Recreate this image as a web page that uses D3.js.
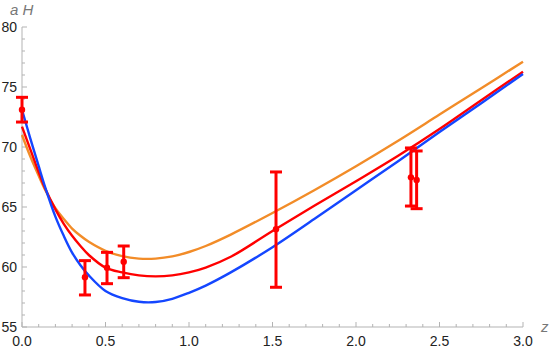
<!DOCTYPE html>
<html>
<head>
<meta charset="utf-8">
<script src="https://cdn.jsdelivr.net/npm/d3@7"></script>
<style>
  body { margin: 0; background: #fff; }
  text { font-family: "Liberation Sans", "DejaVu Sans", sans-serif; }
</style>
</head>
<body>
<script>
// curve samples
const zs = [0, 0.05, 0.1, 0.14, 0.2, 0.25, 0.3, 0.35, 0.4, 0.5, 0.6, 0.7, 0.8, 0.9, 1.0, 1.1, 1.25, 1.5, 1.75, 2.0, 2.25, 2.5, 2.75, 3.0];
const orangeVals = [71.0, 69.2, 67.6, 66.4, 64.9, 64.0, 63.2, 62.6, 62.1, 61.35, 60.9, 60.7, 60.7, 60.88, 61.25, 61.75, 62.7, 64.5, 66.4, 68.4, 70.5, 72.7, 74.9, 77.11];
const redVals    = [71.7, 69.8, 67.9, 66.5, 64.8, 63.6, 62.6, 61.75, 61.0, 59.95, 59.55, 59.3, 59.22, 59.3, 59.55, 59.95, 60.85, 63.0, 65.1, 67.15, 69.25, 71.5, 73.9, 76.28];
const blueVals   = [73.1, 70.7, 68.4, 66.6, 64.2, 62.6, 61.2, 60.15, 59.3, 58.0, 57.4, 57.1, 57.08, 57.35, 57.85, 58.45, 59.55, 61.65, 64.0, 66.4, 68.8, 71.25, 73.65, 76.08];

// measurements with error bars
const dataZ  = [0.0, 0.377, 0.509, 0.609, 1.521, 2.329, 2.363];
const dataV  = [73.1, 59.15, 59.94, 60.44, 63.14, 67.47, 67.25];
const dataLo = [72.08, 57.67, 58.61, 59.11, 58.31, 65.08, 64.86];
const dataHi = [74.14, 60.53, 61.22, 61.75, 67.92, 69.92, 69.67];

const xTicks = [0, 0.5, 1.0, 1.5, 2.0, 2.5, 3.0];
const yTicks = [55, 60, 65, 70, 75, 80];

const width = 552, height = 350;

const x = d3.scaleLinear().domain([0, 3]).range([22, 523]);
const y = d3.scaleLinear().domain([55, 80]).range([327, 27]);

const svg = d3.select("body").append("svg")
  .attr("width", width)
  .attr("height", height);

const axisColor = "#b3b3b3";
const labelColor = "#222";

// axes lines
svg.append("line").attr("x1", x(0)).attr("x2", x(3)).attr("y1", y(55)).attr("y2", y(55))
  .attr("stroke", axisColor);
svg.append("line").attr("x1", x(0)).attr("x2", x(0)).attr("y1", y(55)).attr("y2", y(80))
  .attr("stroke", axisColor);

// minor + major ticks
const xMinor = d3.range(0, 3.0001, 0.1);
svg.selectAll(".xt").data(xMinor).enter().append("line")
  .attr("x1", d => x(d)).attr("x2", d => x(d))
  .attr("y1", y(55))
  .attr("y2", d => y(55) - (Math.abs(d * 2 - Math.round(d * 2)) < 1e-6 ? 5 : 3))
  .attr("stroke", axisColor);

const yMinor = d3.range(55, 80.001, 1);
svg.selectAll(".yt").data(yMinor).enter().append("line")
  .attr("y1", d => y(d)).attr("y2", d => y(d))
  .attr("x1", x(0))
  .attr("x2", d => x(0) + (d % 5 === 0 ? 5 : 3))
  .attr("stroke", axisColor);

svg.selectAll(".xl").data(xTicks).enter().append("text")
  .attr("x", d => x(d)).attr("y", 346)
  .attr("text-anchor", "middle")
  .attr("font-size", 14).attr("fill", labelColor)
  .text(d => d3.format(".1f")(d));

svg.selectAll(".yl").data(yTicks).enter().append("text")
  .attr("x", 17).attr("y", d => y(d) + 5)
  .attr("text-anchor", "end")
  .attr("font-size", 14).attr("fill", labelColor)
  .text(d => d);

// axis labels
svg.append("text").attr("x", 10).attr("y", 15)
  .attr("font-size", 15).attr("font-style", "italic").attr("fill", "#777")
  .text("a H");
svg.append("text").attr("x", 541).attr("y", 332)
  .attr("font-size", 15).attr("font-style", "italic").attr("fill", "#777")
  .text("z");

// curves
const line = d3.line()
  .x(d => x(d[0]))
  .y(d => y(d[1]))
  .curve(d3.curveCatmullRom.alpha(0.5));

const series = [
  {vals: orangeVals, color: "#f28c28"},
  {vals: redVals, color: "#ff0000"},
  {vals: blueVals, color: "#1446ff"}
];

series.forEach(s => {
  svg.append("path")
    .datum(zs.map((z, i) => [z, s.vals[i]]))
    .attr("fill", "none")
    .attr("stroke", s.color)
    .attr("stroke-width", 2.4)
    .attr("d", line);
});

// error bars
const bars = dataZ.map((z, i) => ({z: z, v: dataV[i], lo: dataLo[i], hi: dataHi[i]}));
const eb = svg.append("g").attr("stroke", "#ff0000").attr("stroke-width", 3);
bars.forEach(b => {
  eb.append("line").attr("x1", x(b.z)).attr("x2", x(b.z)).attr("y1", y(b.lo)).attr("y2", y(b.hi));
  eb.append("line").attr("x1", x(b.z) - 6).attr("x2", x(b.z) + 6).attr("y1", y(b.lo)).attr("y2", y(b.lo));
  eb.append("line").attr("x1", x(b.z) - 6).attr("x2", x(b.z) + 6).attr("y1", y(b.hi)).attr("y2", y(b.hi));
});
svg.selectAll(".pt").data(bars).enter().append("circle")
  .attr("cx", d => x(d.z)).attr("cy", d => y(d.v)).attr("r", 3.2)
  .attr("fill", "#ff0000");
</script>
</body>
</html>
